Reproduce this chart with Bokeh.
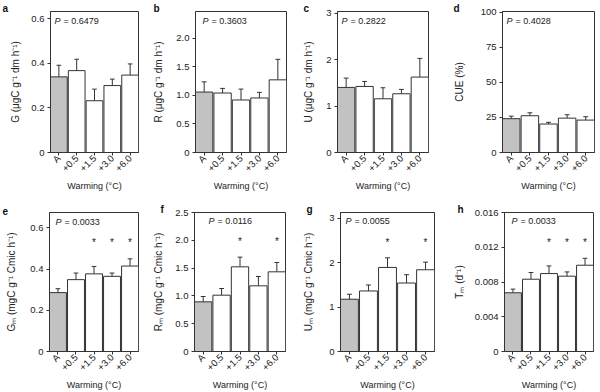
import math
from bokeh.plotting import figure
from bokeh.models import FixedTicker, Range1d, Label, Title
from bokeh.layouts import column, row
from bokeh.embed import file_html
from bokeh.resources import INLINE
from bokeh.core.properties import value

# ---------------- data ----------------
treatments = ["A", "+0.5", "+1.5", "+3.0", "+6.0"]
x_title = "Warming (°C)"

G_mean = [0.339, 0.367, 0.232, 0.300, 0.347]
G_se = [0.052, 0.051, 0.052, 0.029, 0.050]
R_mean = [1.059, 1.042, 0.920, 0.955, 1.273]
R_se = [0.179, 0.081, 0.191, 0.098, 0.359]
U_mean = [1.403, 1.424, 1.158, 1.266, 1.626]
U_se = [0.201, 0.108, 0.238, 0.094, 0.403]
CUE_mean = [24.1, 26.2, 20.3, 24.5, 23.1]
CUE_se = [1.8, 2.1, 1.2, 2.4, 2.4]
Gm_mean = [0.286, 0.349, 0.377, 0.365, 0.415]
Gm_se = [0.019, 0.032, 0.036, 0.016, 0.035]
Rm_mean = [0.893, 1.013, 1.523, 1.181, 1.433]
Rm_se = [0.096, 0.120, 0.174, 0.168, 0.168]
Um_mean = [1.176, 1.362, 1.891, 1.541, 1.839]
Um_se = [0.112, 0.135, 0.216, 0.186, 0.171]
Tm_mean = [0.00676, 0.00832, 0.00897, 0.00867, 0.00993]
Tm_se = [0.00042, 0.00077, 0.00088, 0.00049, 0.00080]

p_values = ["0.6479", "0.3603", "0.2822", "0.4028", "0.0033", "0.0116", "0.0055", "0.0033"]
letters = ["a", "b", "c", "d", "e", "f", "g", "h"]

y_labels = [
    "G (μgC g⁻¹ dm h⁻¹)",
    "R (μgC g⁻¹ dm h⁻¹)",
    "U (μgC g⁻¹ dm h⁻¹)",
    "CUE (%)",
    "Gₘ (mgC g⁻¹ Cmic h⁻¹)",
    "Rₘ (mgC g⁻¹ Cmic h⁻¹)",
    "Uₘ (mgC g⁻¹ Cmic h⁻¹)",
    "Tₘ (d⁻¹)",
]

y_max = [0.632, 2.47, 3.04, 100.5, 0.675, 2.5, 3.127, 0.016]
y_ticks = [
    [0, 0.2, 0.4, 0.6],
    [0, 0.5, 1.0, 1.5, 2.0],
    [0, 1, 2, 3],
    [0, 25, 50, 75, 100],
    [0, 0.2, 0.4, 0.6],
    [0, 0.5, 1.0, 1.5, 2.0, 2.5],
    [0, 1, 2, 3],
    [0, 0.004, 0.008, 0.012, 0.016],
]
y_tick_labels = [
    ["0", "0.2", "0.4", "0.6"],
    ["0", "0.5", "1.0", "1.5", "2.0"],
    ["0", "1", "2", "3"],
    ["0", "25", "50", "75", "100"],
    ["0", "0.2", "0.4", "0.6"],
    ["0", "0.5", "1.0", "1.5", "2.0", "2.5"],
    ["0", "1", "2", "3"],
    ["0", "0.004", "0.008", "0.012", "0.016"],
]

# significance stars (vs ambient) and their heights
stars = [
    [0, 0, 0, 0, 0],
    [0, 0, 0, 0, 0],
    [0, 0, 0, 0, 0],
    [0, 0, 0, 0, 0],
    [0, 0, 1, 1, 1],
    [0, 0, 1, 0, 1],
    [0, 0, 1, 0, 1],
    [0, 0, 1, 1, 1],
]
star_y = [0, 0, 0, 0, 0.528, 1.98, 2.46, 0.0126]

means = [G_mean, R_mean, U_mean, CUE_mean, Gm_mean, Rm_mean, Um_mean, Tm_mean]
ses = [G_se, R_se, U_se, CUE_se, Gm_se, Rm_se, Um_se, Tm_se]

# ---------------- style / layout ----------------
FONT = "Liberation Sans"
TXT = "#222222"
LINE = "#333333"
GREY = "#c2c2c2"

# width, height, left, right, top, bottom borders, ylabel standoff, P dx, P dy
layout = [
    (150, 196, 50, 12, 10, 44, 7, 4, 10),
    (150, 196, 44, 14, 10, 44, 9, 7, 10),
    (150, 196, 36, 22, 11, 44, 9, 4, 9),
    (150, 196, 51, 6, 10, 44, 13, 4, 10),
    (150, 196, 49, 12, 14, 41, 10, 6, 10),
    (150, 196, 36, 15, 16, 41, 8, 14, 8),
    (150, 196, 36, 16, 15, 41, 12, 5, 9),
    (150, 196, 49, 7, 15, 41, 7, 7, 9),
]


def make_panel(i):
    w, h, lb, rb, tb, bb, ystand, pdx, pdy = layout[i]
    fh = h - tb - bb
    ymax = y_max[i]
    p = figure(width=w, height=h, output_backend="svg", toolbar_location=None,
               x_range=Range1d(-0.47, 4.47), y_range=Range1d(0, ymax),
               min_border_left=lb, min_border_right=rb,
               min_border_top=tb, min_border_bottom=bb,
               background_fill_color="white", border_fill_color="white")
    p.title = Title(text=letters[i], align="left", offset=-lb + 2, standoff=-4,
                    text_font=FONT, text_font_size="10px", text_font_style="bold",
                    text_color="#111111")
    xs = list(range(len(treatments)))
    fills = [GREY] + ["white"] * (len(xs) - 1)
    m = means[i]
    s = ses[i]
    tops = [a + b for a, b in zip(m, s)]
    p.segment(x0=xs, y0=m, x1=xs, y1=tops, line_color=LINE, line_width=1)
    p.segment(x0=[x - 0.13 for x in xs], y0=tops, x1=[x + 0.13 for x in xs], y1=tops,
              line_color=LINE, line_width=1)
    p.vbar(x=xs, top=m, bottom=0, width=0.94, fill_color=fills, line_color=LINE, line_width=1)

    sx = [x for x, flag in zip(xs, stars[i]) if flag]
    if sx:
        p.text(x=sx, y=[star_y[i]] * len(sx), text=["*"] * len(sx),
               text_align="center", text_baseline="middle",
               text_font=value(FONT), text_font_size="10px", text_color=TXT)

    p.xgrid.visible = False
    p.ygrid.visible = False
    p.outline_line_color = LINE
    p.outline_line_width = 1
    p.outline_line_alpha = 1

    p.xaxis.ticker = FixedTicker(ticks=xs)
    p.xaxis.major_label_overrides = {x: t for x, t in zip(xs, treatments)}
    p.xaxis.major_label_orientation = math.pi / 4
    p.xaxis.axis_label = x_title
    p.xaxis.axis_label_standoff = 0
    p.xaxis.major_label_standoff = 1

    p.yaxis.ticker = FixedTicker(ticks=y_ticks[i])
    p.yaxis.major_label_overrides = {t: l for t, l in zip(y_ticks[i], y_tick_labels[i])}
    p.yaxis.axis_label = y_labels[i]
    p.yaxis.axis_label_standoff = ystand
    p.yaxis.major_label_standoff = 3

    for ax in (p.xaxis, p.yaxis):
        ax.axis_line_color = LINE
        ax.major_tick_line_color = LINE
        ax.major_tick_out = 3
        ax.major_tick_in = 0
        ax.minor_tick_line_color = None
        ax.major_label_text_font = FONT
        ax.major_label_text_font_size = "9.5px"
        ax.major_label_text_color = TXT
        ax.axis_label_text_font = FONT
        ax.axis_label_text_font_style = "normal"
        ax.axis_label_text_color = TXT
    p.xaxis.axis_label_text_font_size = "9px"
    p.yaxis.axis_label_text_font_size = "10px"

    # P value text
    py = ymax * (1 - pdy / fh)
    p.add_layout(Label(x=pdx, y=py, x_units="screen", y_units="data", text="P",
                       text_font=FONT, text_font_size="9px", text_font_style="italic",
                       text_color=TXT, text_baseline="middle"))
    p.add_layout(Label(x=pdx + 9, y=py, x_units="screen", y_units="data",
                       text="= " + p_values[i],
                       text_font=FONT, text_font_size="9px",
                       text_color=TXT, text_baseline="middle"))
    return p


panels = [make_panel(i) for i in range(8)]
page = column(row(*panels[:4]), row(*panels[4:]))
open("out.html", "w").write(file_html(page, INLINE))
